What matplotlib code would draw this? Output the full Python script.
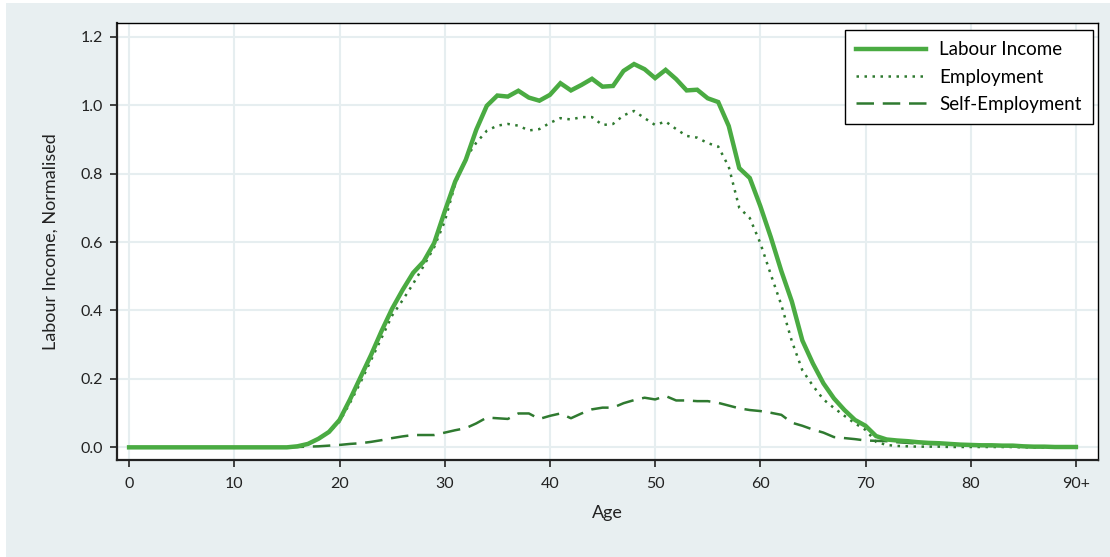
import matplotlib
matplotlib.use("Agg")
import matplotlib.pyplot as plt
from matplotlib.patches import Rectangle

ages = list(range(0, 91))

labour_income = [0.0] * 16 + [
    0.003, 0.01, 0.025, 0.045,                       # 16-19
    0.08, 0.14, 0.205, 0.27, 0.34, 0.405, 0.46, 0.51, 0.543, 0.597,   # 20-29
    0.689, 0.777, 0.84, 0.928, 0.998, 1.028, 1.025, 1.042, 1.022, 1.013,  # 30-39
    1.030, 1.064, 1.043, 1.059, 1.077, 1.054, 1.056, 1.100, 1.120, 1.105,  # 40-49
    1.079, 1.103, 1.076, 1.043, 1.045, 1.020, 1.009, 0.939, 0.816, 0.787,  # 50-59
    0.705, 0.614, 0.515, 0.426, 0.312, 0.245, 0.187, 0.143, 0.109, 0.080,  # 60-69
    0.063, 0.033, 0.023, 0.020, 0.018, 0.015, 0.013, 0.012, 0.010, 0.008,  # 70-79
    0.007, 0.006, 0.006, 0.005, 0.005, 0.003, 0.002, 0.002, 0.001, 0.001,  # 80-89
    0.001,                                                                 # 90+
]

employment = [0.0] * 16 + [
    0.003, 0.01, 0.025, 0.045,
    0.075, 0.13, 0.19, 0.255, 0.32, 0.385, 0.43, 0.478, 0.53, 0.585,
    0.66, 0.77, 0.845, 0.89, 0.925, 0.940, 0.945, 0.940, 0.926, 0.930,
    0.948, 0.962, 0.958, 0.965, 0.965, 0.942, 0.945, 0.970, 0.983, 0.962,
    0.942, 0.952, 0.930, 0.910, 0.905, 0.889, 0.879, 0.820, 0.700, 0.670,
    0.597, 0.505, 0.416, 0.310, 0.225, 0.180, 0.140, 0.115, 0.092, 0.070,
    0.051, 0.016, 0.007, 0.004, 0.003, 0.002, 0.002, 0.002, 0.001, 0.001,
    0.001, 0.001, 0.001, 0.001, 0.001, 0.0, 0.0, 0.0, 0.0, 0.0,
    0.0,
]

self_employment = [0.0] * 16 + [
    0.001, 0.002, 0.003, 0.005,
    0.007, 0.010, 0.012, 0.016, 0.021, 0.027, 0.032, 0.036, 0.036, 0.036,
    0.043, 0.050, 0.056, 0.070, 0.087, 0.085, 0.083, 0.099, 0.099, 0.083,
    0.092, 0.099, 0.085, 0.099, 0.111, 0.116, 0.116, 0.129, 0.138, 0.145,
    0.140, 0.150, 0.137, 0.137, 0.135, 0.135, 0.130, 0.122, 0.114, 0.109,
    0.106, 0.101, 0.095, 0.072, 0.063, 0.052, 0.043, 0.030, 0.027, 0.024,
    0.020, 0.019, 0.018, 0.015, 0.013, 0.011, 0.010, 0.009, 0.008, 0.007,
    0.006, 0.005, 0.004, 0.004, 0.003, 0.002, 0.001, 0.001, 0.0, 0.0,
    0.0,
]

x_ticks = [0, 10, 20, 30, 40, 50, 60, 70, 80, 90]
x_tick_labels = ["0", "10", "20", "30", "40", "50", "60", "70", "80", "90+"]
y_ticks = [0.0, 0.2, 0.4, 0.6, 0.8, 1.0, 1.2]

bg = "#e8eff1"
light_green = "#4aab42"
dark_green = "#2f7a30"

plt.rcParams["font.family"] = ["Lato", "DejaVu Sans"]

fig = plt.figure(figsize=(11.1, 5.57), dpi=100)
fig.patch.set_facecolor(bg)
# thin white margin at the top and left, as in the reference
fig.patches.append(Rectangle((0, 1 - 3 / 557), 1, 3 / 557, transform=fig.transFigure,
                             facecolor="white", edgecolor="none", zorder=-5))
fig.patches.append(Rectangle((0, 0), 6 / 1110, 1, transform=fig.transFigure,
                             facecolor="white", edgecolor="none", zorder=-5))

ax = fig.add_axes([117 / 1110, 1 - 460 / 557, (1098 - 117) / 1110, (460 - 23) / 557])
ax.set_facecolor("white")

ax.plot(ages, labour_income, color=light_green, lw=3.2, label="Labour Income",
        solid_joinstyle="miter", zorder=3)
ax.plot(ages, employment, color=dark_green, lw=1.8, linestyle=(0, (1, 2.2)),
        label="Employment", zorder=2)
ax.plot(ages, self_employment, color=dark_green, lw=1.8, linestyle=(0, (7, 3.5)),
        label="Self-Employment", zorder=2)

ax.set_xlim(-1.15, 92.1)
ax.set_ylim(-0.037, 1.24)
ax.set_xticks(x_ticks)
ax.set_xticklabels(x_tick_labels)
ax.set_yticks(y_ticks)
ax.set_yticklabels([f"{v:.1f}" for v in y_ticks])

ax.grid(True, color="#e6eef0", lw=1.5, zorder=0)
ax.set_axisbelow(True)

for side in ["left", "bottom"]:
    ax.spines[side].set_color("#222222")
    ax.spines[side].set_linewidth(1.6)
for side in ["top", "right"]:
    ax.spines[side].set_color("black")
    ax.spines[side].set_linewidth(1.0)

ax.tick_params(axis="both", direction="out", length=5, width=1.2, color="#222222",
               labelsize=11.5, labelcolor="#222222")
ax.tick_params(axis="x", pad=7)
ax.tick_params(axis="y", pad=5)

ax.set_xlabel("Age", fontsize=13, color="#222222", labelpad=10)
ax.set_ylabel("Labour Income, Normalised", fontsize=13, color="#222222", labelpad=16)

leg = ax.legend(loc="upper right", bbox_to_anchor=(0.9945, 0.984), fontsize=13.5,
                frameon=True, fancybox=False, handlelength=3.7, handletextpad=0.7,
                borderpad=0.6, labelspacing=0.55, borderaxespad=0)
leg.get_frame().set_edgecolor("black")
leg.get_frame().set_linewidth(1.0)
leg.get_frame().set_facecolor("white")
leg.get_frame().set_alpha(1)

fig.savefig("out.png", dpi=100, facecolor=fig.get_facecolor())
